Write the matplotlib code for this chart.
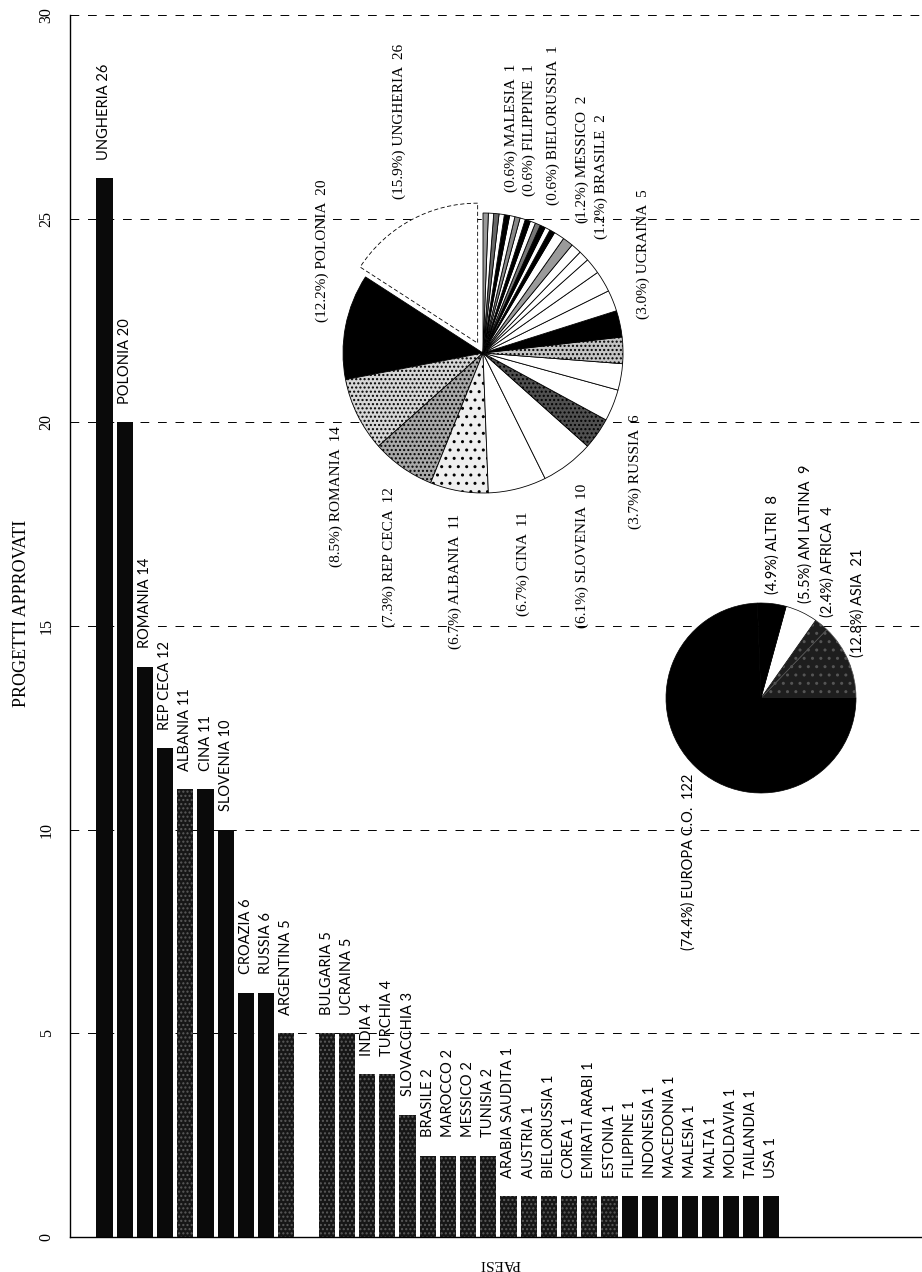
import numpy as np
import matplotlib.pyplot as plt

# progetti approvati per paese
paesi = ["UNGHERIA", "POLONIA", "ROMANIA", "REP CECA", "ALBANIA", "CINA", "SLOVENIA",
         "CROAZIA", "RUSSIA", "ARGENTINA", "BULGARIA", "UCRAINA", "INDIA", "TURCHIA",
         "SLOVACCHIA", "BRASILE", "MAROCCO", "MESSICO", "TUNISIA", "ARABIA SAUDITA",
         "AUSTRIA", "BIELORUSSIA", "COREA", "EMIRATI ARABI", "ESTONIA", "FILIPPINE",
         "INDONESIA", "MACEDONIA", "MALESIA", "MALTA", "MOLDAVIA", "TAILANDIA", "USA"]
progetti = [26, 20, 14, 12, 11, 11, 10, 6, 6, 5, 5, 5, 4, 4, 3, 2, 2, 2, 2,
            1, 1, 1, 1, 1, 1, 1, 1, 1, 1, 1, 1, 1, 1]

# stessi progetti raggruppati per area
aree = ["ASIA", "AFRICA", "AM LATINA", "ALTRI", "EUROPA C.O."]
progetti_aree = [21, 4, 9, 8, 122]

# fette della torta per paese che hanno un'etichetta
etichettati = ["UNGHERIA", "POLONIA", "ROMANIA", "REP CECA", "ALBANIA", "CINA",
               "SLOVENIA", "RUSSIA", "UCRAINA", "BRASILE", "MESSICO", "BIELORUSSIA",
               "FILIPPINE", "MALESIA"]

SERIF = ["Liberation Serif", "DejaVu Serif"]
SANS = ["Lato", "DejaVu Sans"]

W, H = 922, 1272
fig = plt.figure(figsize=(W / 100, H / 100), dpi=100)

# ---------------- istogramma ----------------
ax = fig.add_axes([70 / W, 35 / H, (W - 70) / W, 1222 / H])

x = np.arange(len(paesi), dtype=float)
x[10:] += 1  # posto vuoto prima della BULGARIA

# riempimento delle barre: nero pieno o grigio scuro puntinato
nero = {"UNGHERIA", "POLONIA", "ROMANIA", "REP CECA", "CINA", "SLOVENIA", "CROAZIA",
        "RUSSIA", "INDONESIA", "MACEDONIA", "MALESIA", "MALTA", "MOLDAVIA",
        "TAILANDIA", "USA", "FILIPPINE"}
for xi, v, nome in zip(x, progetti, paesi):
    if nome in nero:
        ax.bar(xi, v, width=0.8, color="#0a0a0a", linewidth=0, zorder=2)
    else:
        ax.bar(xi, v, width=0.8, color="#161616", edgecolor="#5a5a5a",
               hatch="....", linewidth=0, zorder=2)
    ax.text(xi, v + 0.45, f"{nome} {v}", rotation=90, rotation_mode="anchor",
            ha="left", va="center", fontsize=10.5, family=SANS, zorder=3)

ax.set_xlim(-(104.5 - 70) / 20.2, (W - 104.5) / 20.2)
ax.set_ylim(0, 30)
ax.set_yticks(range(0, 31, 5))
ax.set_yticklabels([str(t) for t in range(0, 31, 5)], rotation=90, va="center",
                   fontsize=11.5, family=SERIF)
ax.tick_params(axis="y", length=0, pad=11)
ax.set_xticks([])
ax.yaxis.grid(True, linestyle=(0, (9, 9)), color="black", linewidth=0.7)
ax.set_axisbelow(True)
for lato in ["top", "right"]:
    ax.spines[lato].set_visible(False)
ax.spines["left"].set_linewidth(1.0)
ax.spines["bottom"].set_linewidth(1.0)

fig.text(22 / W, 1 - 613 / H, "PROGETTI APPROVATI", rotation=90, ha="center",
         va="center", fontsize=13, family=SERIF)
fig.text(500 / W, 1 - 1263 / H, "PAESI", rotation=180, ha="center", va="center",
         fontsize=11, family=SERIF)


def pie_axes(cx, cy, r, lim):
    half = r * lim
    a = fig.add_axes([(cx - half) / W, (H - cy - half) / H, 2 * half / W, 2 * half / H])
    a.patch.set_visible(False)
    return a


def etichetta(a, frac_start, frac, rr, testo, offset, **kw):
    mid = np.deg2rad(frac_start + frac / 2)
    px = (rr + offset) * np.cos(mid)
    py = (rr + offset) * np.sin(mid)
    a.text(px, py, testo, rotation=90, rotation_mode="anchor",
           ha="left" if np.sin(mid) > 0 else "right", va="center", **kw)


# ---------------- torta per paese ----------------
tot = sum(progetti)
riemp = {
    "UNGHERIA": ("white", ""), "POLONIA": ("black", ""), "ROMANIA": ("#d6d6d6", "...."),
    "REP CECA": ("#a8a8a8", "...."), "ALBANIA": ("#efefef", ".."), "CINA": ("white", ""),
    "SLOVENIA": ("white", ""), "CROAZIA": ("#505050", "...."), "RUSSIA": ("white", ""),
    "ARGENTINA": ("white", ""), "BULGARIA": ("#c4c4c4", "...."), "UCRAINA": ("black", ""),
    "INDIA": ("white", ""), "TURCHIA": ("white", ""), "SLOVACCHIA": ("white", ""),
    "BRASILE": ("white", ""), "MAROCCO": ("white", ""), "MESSICO": ("#9a9a9a", ""),
    "TUNISIA": ("white", ""), "ARABIA SAUDITA": ("black", ""), "AUSTRIA": ("white", ""),
    "BIELORUSSIA": ("black", ""), "COREA": ("#777777", ""), "EMIRATI ARABI": ("white", ""),
    "ESTONIA": ("black", ""), "FILIPPINE": ("white", ""), "INDONESIA": ("#888888", ""),
    "MACEDONIA": ("white", ""), "MALESIA": ("black", ""), "MALTA": ("white", ""),
    "MOLDAVIA": ("#666666", ""), "TAILANDIA": ("white", ""), "USA": ("#999999", ""),
}
ap = pie_axes(483, 353, 140, 1.25)
esplodi = [0.08 if n == "UNGHERIA" else 0 for n in paesi]
spicchi, _ = ap.pie(progetti, startangle=90, counterclock=True, explode=esplodi,
                    colors=[riemp[n][0] for n in paesi],
                    wedgeprops=dict(linewidth=0.6, edgecolor="black"))
for w, n in zip(spicchi, paesi):
    if riemp[n][1]:
        w.set_hatch(riemp[n][1])
spicchi[0].set_linestyle((0, (5, 3)))
ap.set_xlim(-1.25, 1.25)
ap.set_ylim(-1.25, 1.25)

cum = 90.0
for n, v, e in zip(paesi, progetti, esplodi):
    frac = v / tot * 360
    if n in etichettati:
        etichetta(ap, cum, frac, 1.17, f"({v / tot * 100:.1f}%) {n}  {v}", e,
                  fontsize=11, family=SERIF)
    cum += frac

# ---------------- torta per area ----------------
tot_a = sum(progetti_aree)
colori_aree = ["#1e1e1e", "#1e1e1e", "white", "black", "black"]
aa = pie_axes(761, 698, 95, 1.25)
fette, _ = aa.pie(progetti_aree, startangle=0, counterclock=True, colors=colori_aree,
                  wedgeprops=dict(linewidth=0.5, edgecolor="black"))
for w in fette[:2]:
    w.set_edgecolor("#555555")
    w.set_hatch("..")
aa.set_xlim(-1.25, 1.25)
aa.set_ylim(-1.25, 1.25)

cum = 0.0
for n, v in zip(aree, progetti_aree):
    frac = v / tot_a * 360
    etichetta(aa, cum, frac, 1.1, f"({v / tot_a * 100:.1f}%) {n}  {v}", 0,
              fontsize=10.5, family=SANS)
    cum += frac

fig.savefig("out.png", dpi=100)
